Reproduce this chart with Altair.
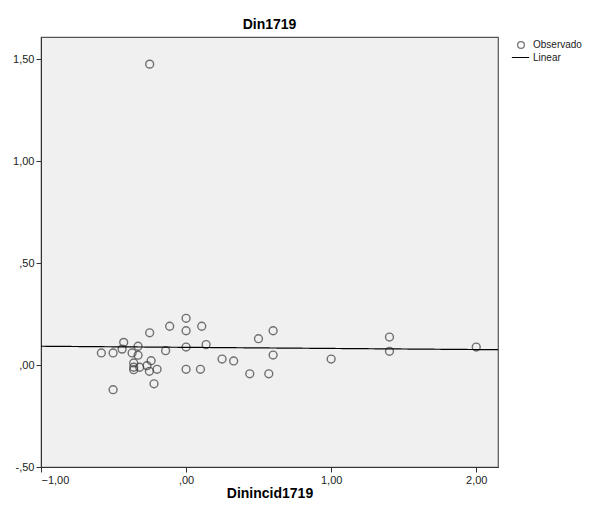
import altair as alt
import pandas as pd

# Observed points (Dinincid1719 vs Din1719)
obs_x = [-0.584, -0.503, -0.430, -0.441, -0.372, -0.331, -0.331, -0.361, -0.361, -0.361,
         -0.320, -0.269, -0.241, -0.253, -0.200, -0.221, -0.503, -0.251, -0.113, -0.141,
         0.000, 0.000, 0.000, 0.000, 0.108, 0.099, 0.138, 0.248, 0.328, 0.439,
         0.570, 0.499, 0.600, 0.600, 1.000, 1.402, 1.402, 2.000, -0.251]
obs_y = [0.059, 0.059, 0.111, 0.078, 0.059, 0.092, 0.048, 0.010, -0.011, -0.023,
         -0.011, -0.003, 0.021, -0.031, -0.021, -0.092, -0.121, 0.158, 0.190, 0.070,
         0.229, 0.168, 0.088, -0.021, 0.190, -0.021, 0.100, 0.029, 0.020, -0.043,
         -0.043, 0.129, 0.168, 0.049, 0.029, 0.137, 0.067, 0.088, 1.475]

# Linear fit line endpoints
line_x = [-1.0, 2.15]
line_y = [0.092, 0.075]

x_ticks = [-1.0, 0.0, 1.0, 2.0]
y_ticks = [-0.5, 0.0, 0.5, 1.0, 1.5]

pts = pd.DataFrame({"x": obs_x, "y": obs_y})
ln = pd.DataFrame({"x": line_x, "y": line_y})

label_expr = ("abs(datum.value) < 1 ? ((datum.value < 0 ? '-' : '') + ',' + "
              "substring(format(abs(datum.value), '.2f'), 2)) : "
              "replace(format(datum.value, '.2f'), '.', ',')")

xscale = alt.Scale(domain=[-1.0, 2.15], nice=False, zero=False)
yscale = alt.Scale(domain=[-0.5, 1.608], nice=False, zero=False)

xaxis = alt.Axis(values=x_ticks, labelExpr=label_expr, grid=False, title="Dinincid1719",
                 titleFontWeight="bold", titleFontSize=14, titleFont="Arial",
                 titlePadding=1)
yaxis = alt.Axis(values=y_ticks, labelExpr=label_expr, grid=False, title=None)

points = alt.Chart(pts).mark_point(filled=False, size=62, strokeWidth=1.4, color="#3a3a3a").encode(
    x=alt.X("x:Q", scale=xscale, axis=xaxis),
    y=alt.Y("y:Q", scale=yscale, axis=yaxis),
    shape=alt.Shape("s:N", scale=alt.Scale(domain=["Observado"], range=["circle"]),
                    legend=alt.Legend(title=None, orient="none", legendX=475, legendY=3,
                                      symbolStrokeColor="#3a3a3a", symbolSize=45,
                                      symbolStrokeWidth=1.3, labelOffset=7)),
).transform_calculate(s="'Observado'")

line = alt.Chart(ln).mark_line(color="black", strokeWidth=1.2).encode(
    x=alt.X("x:Q", scale=xscale),
    y=alt.Y("y:Q", scale=yscale),
    strokeDash=alt.StrokeDash("s:N", scale=alt.Scale(domain=["Linear"], range=[[1, 0]]),
                              legend=alt.Legend(title=None, orient="none", legendX=470, legendY=11,
                                                symbolStrokeColor="black", symbolStrokeWidth=1.2,
                                                symbolSize=300, labelOffset=3)),
).transform_calculate(s="'Linear'")

chart = alt.layer(points, line).resolve_legend(shape="independent", strokeDash="independent").properties(
    width=457, height=430,
    title=alt.Title("Din1719", fontSize=14, fontWeight="bold", font="Arial", offset=5),
    autosize=alt.AutoSizeParams(type="none"),
    padding={"left": 33, "top": 29, "right": 86, "bottom": 38},
    background="white",
).configure_view(fill="#f0f0f0", stroke="#555555", strokeWidth=1.2).configure_axis(
    labelFont="Arial", labelFontSize=11, labelColor="#222222", tickColor="#333333",
    domainColor="#333333", tickSize=5, labelPadding=2
).configure_legend(labelFont="Arial", labelFontSize=10, labelColor="#222222", rowPadding=2)

chart.save("out.html", embed_options={"renderer": "svg", "actions": False})
